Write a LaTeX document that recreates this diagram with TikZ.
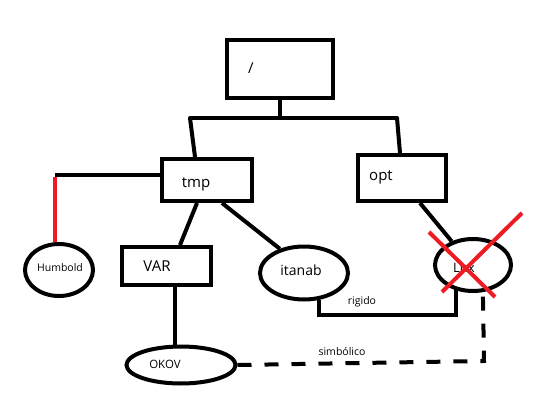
\documentclass[tikz,border=0pt]{standalone}
\usepackage{fontspec}
\setmainfont{Open Sans}
\usetikzlibrary{shapes.geometric}
\definecolor{pred}{RGB}{237,28,36}
\tikzset{
  box/.style={draw, line width=4pt, rectangle, inner sep=0pt},
  oval/.style={draw, line width=4pt, ellipse, inner sep=0pt},
  link/.style={line width=4pt},
  redlink/.style={line width=4pt, pred},
  dlink/.style={line width=4pt, dash pattern=on 14pt off 13pt},
  big/.style={font=\fontsize{15}{17}\selectfont},
  small/.style={font=\fontsize{10.5}{12}\selectfont},
}
\begin{document}
\begin{tikzpicture}[x=1pt,y=-1pt]
\useasboundingbox (0,0) rectangle (536,404);
% boxes
\node[box, minimum width=106pt, minimum height=58pt] (root) at (280,69) {};
\node[big] (roott) at (251,68) {/};
\node[box, minimum width=90pt, minimum height=42pt] (tmp) at (207,180) {};
\node[big] (tmpt) at (196,184) {tmp};
\node[box, minimum width=88pt, minimum height=46pt] (opt) at (402,178) {};
\node[big] (optt) at (381,177) {opt};
\node[box, minimum width=89pt, minimum height=38pt] (var) at (166,266) {};
\node[big] (vart) at (157,266) {VAR};
% ellipses
\node[oval, minimum width=68pt, minimum height=52pt] (hum) at (59,270) {};
\node[small] (humt) at (60,268) {Humbold};
\node[oval, minimum width=88pt, minimum height=53pt] (ita) at (304,273) {};
\node[font=\fontsize{14}{16}\selectfont] (itat) at (301,270) {itanab};
\node[oval, minimum width=76pt, minimum height=52pt] (lnx) at (473,265) {};
\node[font=\fontsize{13}{15}\selectfont] (lnxt) at (464,268) {Lnx};
\node[oval, minimum width=109pt, minimum height=37pt] (okov) at (181,365) {};
\node[font=\fontsize{11.5}{13}\selectfont] (okovt) at (165,364) {OKOV};
% tree connectors
\coordinate (j0) at (280,118);
\coordinate (jl) at (190,118);
\coordinate (jr) at (397,118);
\draw[link] (root.south) -- (j0);
\draw[link, line cap=round] (jl) -- (jr);
\draw[link] (jl) -- ([xshift=-12pt]tmp.north);
\draw[link] (jr) -- ([xshift=-2pt]opt.north);
\coordinate (hj) at (55,175);
\draw[link] (hj) -- ([yshift=5pt]tmp.west);
\draw[redlink] ([yshift=-2pt]hj) -- (hj |- hum.north);
\draw[link] ([xshift=-10pt]tmp.south) -- ([xshift=14pt]var.north);
\draw[link] ([xshift=15pt]tmp.south) -- (ita.135);
\draw[link] ([xshift=18pt]opt.south) -- (lnx.132);
\draw[link] ([xshift=9pt]var.south) -- ([xshift=9pt]var.south |- okov.north);
% rigido
\coordinate (rg) at (456,315);
\draw[link] (ita.300) |- (rg) -| (lnx.237);
\node[small] (rgt) at (362,302) {rigido};
% simbolico
\coordinate (sj) at (484,361);
\draw[dlink] (okov.east) -- (sj) -- (lnx.290);
\node[small] (sbt) at (342,352) {simbólico};
% red cross
\coordinate (x1) at (429,232);
\coordinate (x2) at (495,297);
\coordinate (x3) at (522,213);
\coordinate (x4) at (442,292);
\draw[redlink] (x1) -- (x2);
\draw[redlink] (x3) -- (x4);
\end{tikzpicture}
\end{document}
